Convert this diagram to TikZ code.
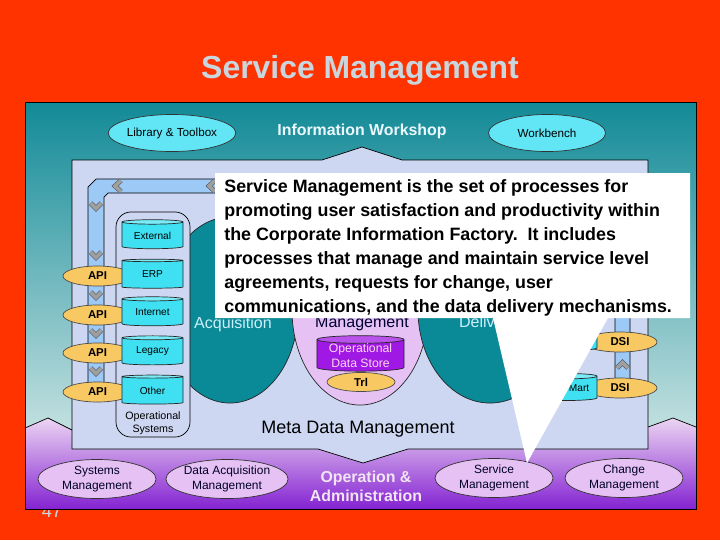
\documentclass[tikz,border=0pt]{standalone}
\usepackage{fontspec}
\setmainfont{Liberation Sans}
\usetikzlibrary{shapes.geometric, positioning}

\definecolor{slidered}{HTML}{FF3300}
\definecolor{titlegray}{HTML}{CAD6DE}
\definecolor{panelteal}{HTML}{128A97}
\definecolor{panellight}{HTML}{C2E0E0}
\definecolor{innerblue}{HTML}{CDD7F2}
\definecolor{pipeblue}{HTML}{9CC9F6}
\definecolor{ovalcyan}{HTML}{62E6F6}
\definecolor{storecyan}{HTML}{3EE0F2}
\definecolor{storetop}{HTML}{7AECF8}
\definecolor{apiorange}{HTML}{F8C862}
\definecolor{lavender}{HTML}{E6C2F4}
\definecolor{bandtop}{HTML}{ECD6F2}
\definecolor{bandmid}{HTML}{C892E6}
\definecolor{bandbottom}{HTML}{8422D2}
\definecolor{odspurple}{HTML}{A018E4}
\definecolor{deepteal}{HTML}{0A8996}

\tikzset{
    topoval/.style={ellipse, draw=black!80, fill=ovalcyan, inner sep=0pt, minimum width=2.925cm, minimum height=0.925cm, font=\fontsize{8.3}{10}\selectfont},
    botoval/.style={ellipse, draw=black!80, fill=lavender, inner sep=0pt, minimum width=2.95cm, minimum height=0.975cm, align=center, font=\fontsize{8.5}{10.5}\selectfont, text=black!85!blue},
    bigoval/.style={ellipse, draw=black!85, inner sep=0pt},
    apioval/.style={ellipse, draw=black!70, fill=apiorange, inner sep=0pt, minimum width=1.725cm, minimum height=0.5cm, font=\bfseries\fontsize{8.1}{9}\selectfont},
    store/.style={cylinder, shape border rotate=90, aspect=0.12, draw=black!85, cylinder uses custom fill, cylinder body fill=storecyan, cylinder end fill=storetop, inner sep=0pt, minimum width=1.525cm, minimum height=0.725cm, font=\fontsize{7.2}{8}\selectfont},
    chevron/.style={draw=black!70, double=gray!75, double distance=2.6pt, line width=0.35pt, line join=miter}
}

\begin{document}
\begin{tikzpicture}[x=0.025cm, y=-0.025cm, line width=0.5pt]
\useasboundingbox[fill=slidered] (0,0) rectangle (720,540);
\node[anchor=base, font=\bfseries\fontsize{22.7}{26}\selectfont, text=titlegray] (title) at (360,78) {Service Management};
\node[anchor=base, font=\fontsize{13}{15}\selectfont, text=titlegray] (pagenum) at (52,517) {47};

% slide panel
\shade[top color=panelteal, bottom color=panellight] (25,102) rectangle (696,430);
\shade[top color=bandtop, middle color=bandmid, bottom color=bandbottom] (25,428) -- (48,418) -- (72,430) -- (648,427) -- (673,418) -- (696,427) -- (696,509) -- (25,509) -- cycle;
\draw (25,428) -- (48,418) -- (72,430);
\draw (648,427) -- (673,418) -- (696,427);
\draw (25,102) rectangle (696,509);
\draw[fill=innerblue] (72,160) -- (322,160) -- (362,147) -- (402,160) -- (648,160) -- (648,449) -- (408,449) -- (363,463) -- (318,449) -- (72,449) -- cycle;

\node[topoval] (library) at (172,133) {Library \& Toolbox};
\node[topoval] (workbench) at (547,133) {Workbench};
\node[font=\bfseries\fontsize{11.3}{13}\selectfont, text=white!92!cyan] (workshop) at (362,131) {Information Workshop};

% pipe
\draw[fill=pipeblue] (88,398) -- (88,187) -- (96,179) -- (622,179) -- (630,187) -- (630,395) -- (615,395) -- (615,197) -- (611,193) -- (108,193) -- (104,197) -- (104,398) -- cycle;
\draw[chevron] (121,180.5) -- (115,186) -- (121,191.5);
\draw[chevron] (215,180.5) -- (209,186) -- (215,191.5);
\draw[chevron] (90.5,203) -- (96,208.5) -- (101.5,203);
\draw[chevron] (90.5,252) -- (96,257.5) -- (101.5,252);
\draw[chevron] (90.5,292) -- (96,297.5) -- (101.5,292);
\draw[chevron] (90.5,330) -- (96,335.5) -- (101.5,330);
\draw[chevron] (90.5,368) -- (96,373.5) -- (101.5,368);
\draw[chevron] (617,368) -- (622.5,362.5) -- (628,368);

\node[bigoval, fill=deepteal, minimum width=3.4cm, minimum height=4.65cm] (acquisition) at (230,310) {};
\node[bigoval, fill=lavender, minimum width=3.4cm, minimum height=4.75cm] (datamgmt) at (360,310) {};
\node[bigoval, fill=deepteal, minimum width=3.6cm, minimum height=4.65cm] (delivery) at (490,310) {};
\node[anchor=base, text=white!80!cyan, font=\fontsize{11.4}{13}\selectfont] (acqlabel) at (233,328) {Acquisition};
\node[anchor=base, text=black!80!blue, font=\fontsize{11.4}{13}\selectfont] (mgmtlabel) at (362,327) {Management};
\node[anchor=base, text=white!80!cyan, font=\fontsize{11.4}{13}\selectfont] (dellabel) at (488,327) {Delivery};

\node[draw, fill=innerblue, rounded corners=0.375cm, minimum width=1.85cm, minimum height=5.625cm, inner sep=0pt] (opsys) at (153,324.5) {};
\node[above=0.07cm of opsys.south, inner sep=0pt, align=center, font=\fontsize{7.6}{8.6}\selectfont] (opsyslabel) {Operational\\Systems};

\node[apioval] (apierp) at (97.5,276) {API};
\node[apioval] (apiinternet) at (97.5,315) {API};
\node[apioval] (apilegacy) at (97.5,353) {API};
\node[apioval] (apiother) at (97.5,392) {API};
\node[apioval, minimum width=1.85cm] (dsiupper) at (620,342) {DSI};
\node[apioval, minimum width=1.85cm] (dsilower) at (620,388) {DSI};

\node[store] (external) at (152.5,235.5) {External};
\node[store] (erp) at (152.5,274.5) {ERP};
\node[store] (internet) at (152.5,312.5) {Internet};
\node[store] (legacy) at (152.5,351.5) {Legacy};
\node[store] (other) at (152.5,390.5) {Other};
\node[store, minimum width=1.5cm, minimum height=0.675cm] (martupper) at (567,338.5) {Data Mart};
\node[store, minimum width=1.5cm, minimum height=0.675cm] (martlower) at (567,388.5) {Data Mart};

\node[store, cylinder body fill=odspurple, cylinder end fill=odspurple!75!white, minimum width=2.175cm, minimum height=0.875cm, align=center, text=white!85!magenta, font=\fontsize{8.7}{10.5}\selectfont] (ods) at (360.5,355.5) {Operational\\Data Store};
\node[apioval, minimum width=1.7cm, minimum height=0.475cm] (trl) at (361,382) {Trl};

\node[anchor=base, font=\fontsize{12.8}{15}\selectfont] (metadata) at (358,433) {Meta Data Management};

\node[botoval] (sysmgmt) at (97,479) {Systems\\Management};
\node[botoval] (dacqmgmt) at (227,479) {Data Acquisition\\Management};
\node[botoval] (servmgmt) at (494,478) {Service\\Management};
\node[botoval] (chgmgmt) at (624,478) {Change\\Management};
\node[align=center, text=white!90!violet, font=\bfseries\fontsize{11.3}{13.5}\selectfont] (opadmin) at (366,486) {Operation \&\\Administration};

% callout
\fill[white] (215,173) -- (690,173) -- (690,318) -- (608,318) -- (527,463) -- (493,318) -- (215,318) -- cycle;
\node[anchor=north west, align=left, inner sep=0pt, font=\bfseries\fontsize{12.7}{17.07}\selectfont] (callouttext) at (224,179) {Service Management is the set of processes for\\
promoting user satisfaction and productivity within\\
the Corporate Information Factory.\ \ It includes\\
processes that manage and maintain service level\\
agreements, requests for change, user\\
communications, and the data delivery mechanisms.};
\end{tikzpicture}
\end{document}
